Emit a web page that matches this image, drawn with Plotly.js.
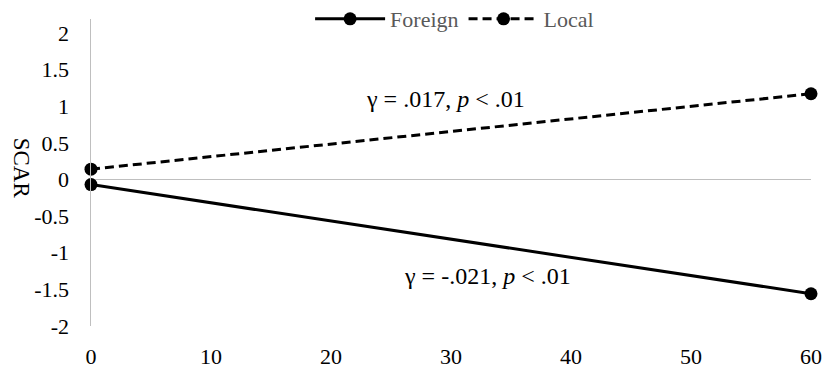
<!DOCTYPE html>
<html>
<head>
<meta charset="utf-8">
<script src="https://cdn.plot.ly/plotly-3.0.1.min.js"></script>
<style>html,body{margin:0;padding:0;background:#fff;}#chart{width:825px;height:368px;}</style>
</head>
<body>
<div id="chart"></div>
<script>
var time = [0, 60];
var foreign = [-0.07, -1.56];
var local = [0.14, 1.17];
var yTicks = [-2, -1.5, -1, -0.5, 0, 0.5, 1, 1.5, 2];
var yTickText = ['-2', '-1.5', '-1', '-0.5', '0', '0.5', '1', '1.5', '2'];
var xTicks = [0, 10, 20, 30, 40, 50, 60];

var font = 'Liberation Serif';
var traces = [
  {x: time, y: foreign, name: 'Foreign', type: 'scatter', mode: 'lines+markers', cliponaxis: false,
   line: {color: '#000', width: 3}, marker: {color: '#000', size: 13}},
  {x: time, y: local, name: 'Local', type: 'scatter', mode: 'lines+markers', cliponaxis: false,
   line: {color: '#000', width: 3, dash: '9px,5px'}, marker: {color: '#000', size: 13}}
];
var layout = {
  width: 825, height: 368,
  margin: {l: 91, r: 14, t: 19, b: 42, autoexpand: false},
  paper_bgcolor: '#fff', plot_bgcolor: '#fff',
  font: {family: font, size: 20, color: '#000'},
  showlegend: true,
  legend: {orientation: 'h', x: 0.505, xanchor: 'center', y: 1.0, yanchor: 'middle',
           font: {family: font, size: 22, color: '#595959'}, itemwidth: 70, bgcolor: 'rgba(255,255,255,0)'},
  xaxis: {range: [0, 60], tickvals: xTicks, showgrid: false, zeroline: false, showline: false,
          ticks: 'outside', ticklen: 11, tickcolor: 'rgba(0,0,0,0)', fixedrange: true,
          tickfont: {family: font, size: 22, color: '#000'}},
  yaxis: {range: [-2, 2.19], tickvals: yTicks, ticktext: yTickText, showgrid: false,
          zeroline: true, zerolinecolor: '#bfbfbf', zerolinewidth: 1.5,
          showline: true, linecolor: '#bfbfbf', linewidth: 1.5,
          ticks: 'outside', ticklen: 16, tickcolor: 'rgba(0,0,0,0)',
          tickfont: {family: font, size: 22, color: '#000'}},
  annotations: [
    {xref: 'paper', yref: 'paper', x: -0.097, xanchor: 'center', y: 0.515, yanchor: 'middle', text: 'SCAR', textangle: 90, showarrow: false,
     font: {family: font, size: 23, color: '#000'}},
    {xref: 'x', yref: 'y', x: 29.5, y: 1.1, text: 'γ = .017, <i>p</i> < .01', showarrow: false,
     font: {family: font, size: 24, color: '#000'}},
    {xref: 'x', yref: 'y', x: 33, y: -1.32, text: 'γ = -.021, <i>p</i> < .01', showarrow: false,
     font: {family: font, size: 24, color: '#000'}}
  ]
};
Plotly.newPlot('chart', traces, layout, {displayModeBar: false, staticPlot: true});
</script>
</body>
</html>
